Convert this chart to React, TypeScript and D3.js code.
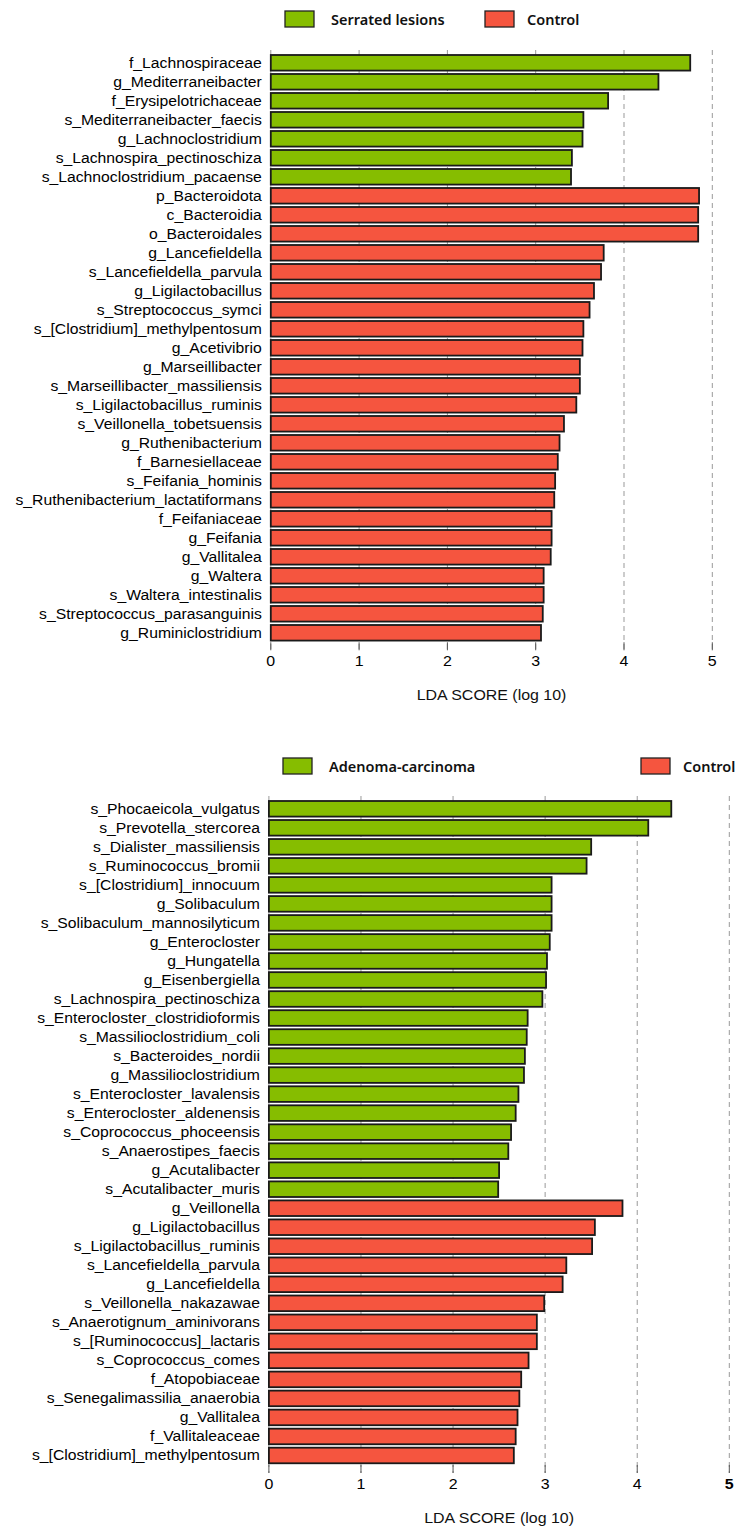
import React from 'react';
import * as d3 from 'd3';

// Serrated lesions vs Control
const serratedLabels = [
  'f_Lachnospiraceae', 'g_Mediterraneibacter', 'f_Erysipelotrichaceae',
  's_Mediterraneibacter_faecis', 'g_Lachnoclostridium', 's_Lachnospira_pectinoschiza',
  's_Lachnoclostridium_pacaense',
];
const serratedValues = [4.75, 4.39, 3.82, 3.54, 3.53, 3.41, 3.40];

const control1Labels = [
  'p_Bacteroidota', 'c_Bacteroidia', 'o_Bacteroidales', 'g_Lancefieldella',
  's_Lancefieldella_parvula', 'g_Ligilactobacillus', 's_Streptococcus_symci',
  's_[Clostridium]_methylpentosum', 'g_Acetivibrio', 'g_Marseillibacter',
  's_Marseillibacter_massiliensis', 's_Ligilactobacillus_ruminis', 's_Veillonella_tobetsuensis',
  'g_Ruthenibacterium', 'f_Barnesiellaceae', 's_Feifania_hominis',
  's_Ruthenibacterium_lactatiformans', 'f_Feifaniaceae', 'g_Feifania', 'g_Vallitalea',
  'g_Waltera', 's_Waltera_intestinalis', 's_Streptococcus_parasanguinis', 'g_Ruminiclostridium',
];
const control1Values = [
  4.85, 4.84, 4.84, 3.77, 3.74, 3.66, 3.61, 3.54, 3.53, 3.50, 3.50, 3.46, 3.32,
  3.27, 3.25, 3.22, 3.21, 3.18, 3.18, 3.17, 3.09, 3.09, 3.08, 3.06,
];

// Adenoma-carcinoma vs Control
const adenomaLabels = [
  's_Phocaeicola_vulgatus', 's_Prevotella_stercorea', 's_Dialister_massiliensis',
  's_Ruminococcus_bromii', 's_[Clostridium]_innocuum', 'g_Solibaculum',
  's_Solibaculum_mannosilyticum', 'g_Enterocloster', 'g_Hungatella', 'g_Eisenbergiella',
  's_Lachnospira_pectinoschiza', 's_Enterocloster_clostridioformis', 's_Massilioclostridium_coli',
  's_Bacteroides_nordii', 'g_Massilioclostridium', 's_Enterocloster_lavalensis',
  's_Enterocloster_aldenensis', 's_Coprococcus_phoceensis', 's_Anaerostipes_faecis',
  'g_Acutalibacter', 's_Acutalibacter_muris',
];
const adenomaValues = [
  4.37, 4.12, 3.50, 3.45, 3.07, 3.07, 3.07, 3.05, 3.02, 3.01, 2.97,
  2.81, 2.80, 2.78, 2.77, 2.71, 2.68, 2.63, 2.60, 2.50, 2.49,
];

const control2Labels = [
  'g_Veillonella', 'g_Ligilactobacillus', 's_Ligilactobacillus_ruminis',
  's_Lancefieldella_parvula', 'g_Lancefieldella', 's_Veillonella_nakazawae',
  's_Anaerotignum_aminivorans', 's_[Ruminococcus]_lactaris', 's_Coprococcus_comes',
  'f_Atopobiaceae', 's_Senegalimassilia_anaerobia', 'g_Vallitalea', 'f_Vallitaleaceae',
  's_[Clostridium]_methylpentosum',
];
const control2Values = [
  3.84, 3.54, 3.51, 3.23, 3.19, 2.99, 2.91, 2.91, 2.82, 2.74, 2.72, 2.70, 2.68, 2.66,
];

const xTicks = [0, 1, 2, 3, 4, 5];

const GREEN = '#86bd00';
const RED = '#f5553f';
const LABEL_FONT = '"Liberation Sans", Arial, sans-serif';
const LEGEND_FONT = '"Noto Sans", "Open Sans", sans-serif';

interface PanelProps {
  caseName: string;
  caseLabels: string[];
  caseValues: number[];
  ctrlLabels: string[];
  ctrlValues: number[];
  barTop: number;
  step: number;
  xRange: [number, number];
  legendY: number;
  caseRectX: number;
  ctrlRectX: number;
  boldLast?: boolean;
}

const Panel: React.FC<PanelProps> = (p) => {
  const rows = [
    ...p.caseLabels.map((l, i) => ({ label: l, value: p.caseValues[i], color: GREEN })),
    ...p.ctrlLabels.map((l, i) => ({ label: l, value: p.ctrlValues[i], color: RED })),
  ];
  const n = rows.length;
  const r0 = p.barTop - p.step * 0.09;
  const y = d3.scaleBand<number>()
    .domain(d3.range(n))
    .range([r0, r0 + n * p.step])
    .paddingInner(0.18)
    .paddingOuter(0.09);
  const x = d3.scaleLinear().domain([0, 5]).range(p.xRange);
  const bottom = r0 + n * p.step;
  const gridTop = p.barTop - 5;

  return (
    <g>
      {/* legend */}
      <rect x={p.caseRectX} y={p.legendY} width={29} height={16} fill={GREEN} stroke="#222" strokeWidth={1.3} />
      <text x={p.caseRectX + 46} y={p.legendY + 14} fontFamily={LEGEND_FONT} fontWeight={600} fontSize={14.5} fill="#111">
        {p.caseName}
      </text>
      <rect x={p.ctrlRectX} y={p.legendY} width={29} height={16} fill={RED} stroke="#222" strokeWidth={1.3} />
      <text x={p.ctrlRectX + 42} y={p.legendY + 14} fontFamily={LEGEND_FONT} fontWeight={600} fontSize={14.5} fill="#111">
        Control
      </text>

      {/* grid */}
      {xTicks.map((t) => (
        <line key={'g' + t} x1={x(t)} x2={x(t)} y1={gridTop} y2={bottom + 8}
          stroke="#999" strokeWidth={1} strokeDasharray="5,4" />
      ))}

      {/* bars */}
      {rows.map((r, i) => (
        <rect key={'b' + i} x={x(0)} y={y(i)!} width={x(r.value) - x(0)} height={y.bandwidth()}
          fill={r.color} stroke="#1a1a1a" strokeWidth={1.8} />
      ))}

      {/* labels */}
      {rows.map((r, i) => (
        <text key={'l' + i} transform={`translate(${x(0) - 9},${y(i)! + y.bandwidth() / 2 + 5}) scale(1.1,1)`}
          textAnchor="end" fontFamily={LABEL_FONT} fontSize={14.3} fill="#000">
          {r.label}
        </text>
      ))}

      {/* x axis ticks */}
      {xTicks.map((t) => (
        <g key={'t' + t}>
          <line x1={x(t)} x2={x(t)} y1={bottom} y2={bottom + 8} stroke="#555" strokeWidth={1} />
          <text transform={`translate(${x(t)},${bottom + 24}) scale(1.1,1)`} textAnchor="middle"
            fontFamily={LABEL_FONT} fontSize={14.5}
            fontWeight={p.boldLast && t === 5 ? 700 : 400} fill="#000">
            {t}
          </text>
        </g>
      ))}
      <text transform={`translate(${(p.xRange[0] + p.xRange[1]) / 2},${bottom + 58}) scale(1.1,1)`}
        textAnchor="middle" fontFamily={LABEL_FONT} fontSize={14.5} fill="#111">
        LDA SCORE (log 10)
      </text>
    </g>
  );
};

export default function App() {
  return (
    <svg width={746} height={1537} style={{ position: 'absolute', left: 0, top: 0, background: '#fff' }}>
      <rect width={746} height={1537} fill="#fff" />
      <Panel
        caseName="Serrated lesions"
        caseLabels={serratedLabels}
        caseValues={serratedValues}
        ctrlLabels={control1Labels}
        ctrlValues={control1Values}
        barTop={55}
        step={19.0}
        xRange={[270.8, 712.3]}
        legendY={11}
        caseRectX={285}
        ctrlRectX={485}
      />
      <Panel
        caseName="Adenoma-carcinoma"
        caseLabels={adenomaLabels}
        caseValues={adenomaValues}
        ctrlLabels={control2Labels}
        ctrlValues={control2Values}
        barTop={801}
        step={19.02}
        xRange={[268.9, 729.3]}
        legendY={758}
        caseRectX={283}
        ctrlRectX={641}
        boldLast
      />
    </svg>
  );
}
